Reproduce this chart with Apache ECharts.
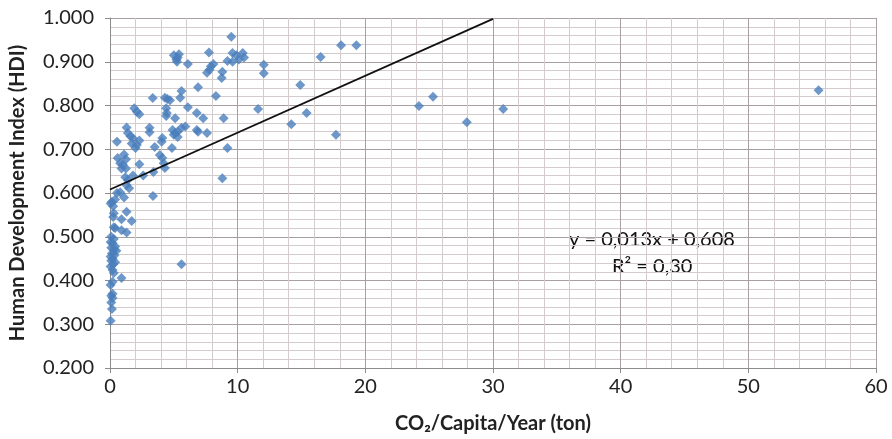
<!DOCTYPE html>
<html>
<head>
<meta charset="utf-8">
<script src="https://cdn.jsdelivr.net/npm/echarts@6/dist/echarts.min.js"></script>
<style>
  html, body { margin: 0; padding: 0; background: #fff; }
  #chart { width: 892px; height: 439px; }
</style>
</head>
<body>
<div id="chart"></div>
<script>
// CO2 per capita (ton) vs HDI
var co2_values = [
    9.5, 5.0, 5.4, 5.2, 5.3, 5.25, 6.1, 7.75, 7.9, 8.1, 7.8, 7.6, 8.8, 8.75, 9.2,
    9.6, 9.9, 9.6, 10.1, 10.4, 10.5, 12.05, 12.05, 6.9, 5.6, 5.5, 3.35, 4.3, 4.5, 4.7,
    8.3, 1.9, 2.1, 2.3, 4.4, 4.45, 4.4, 6.1, 6.8, 7.3, 5.1, 8.9, 11.6, 3.1, 3.1,
    1.3, 1.4, 1.6, 1.8, 1.7, 2.1, 2.3, 2.0, 0.55, 4.9, 5.1, 5.3, 5.6, 5.9, 5.3, 5.0,
    6.8, 6.9, 7.6, 4.1, 4.05, 3.5, 4.85, 9.2, 3.9, 4.1, 4.2,
    0.6, 0.8, 1.1, 1.25, 1.0, 1.25, 0.9, 2.3, 4.3, 3.4, 2.6, 8.8, 1.2, 1.8, 1.4,
    1.3, 1.5, 0.8, 0.55, 1.1, 3.37, 0.15, 0.4, 0.25, 0.05, 1.3, 0.3, 0.25, 0.9, 1.7,
    0.3, 0.4, 0.9, 1.3,
    0.1, 0.3, 0.05, 0.2, 0.4, 0.1, 0.3, 0.5, 0.15, 0.05, 0.35, 0.2, 0.1, 0.4, 0.25, 0.05,
    5.6, 0.2, 0.3, 0.9, 0.2, 0.05, 0.2, 0.1, 0.2, 0.1, 0.15, 0.05,
    14.2, 14.9, 15.4, 16.5, 17.7, 18.1, 19.3, 24.2, 25.3, 27.95, 30.8, 55.5
];
var hdi_values = [
    0.957, 0.915, 0.917, 0.905, 0.91, 0.9, 0.895, 0.921, 0.89, 0.895, 0.882, 0.875, 0.877, 0.863, 0.902,
    0.92, 0.915, 0.9, 0.905, 0.92, 0.91, 0.893, 0.874, 0.842, 0.833, 0.818, 0.817, 0.818, 0.815, 0.812,
    0.822, 0.794, 0.786, 0.78, 0.794, 0.783, 0.776, 0.796, 0.783, 0.771, 0.771, 0.771, 0.792, 0.749, 0.739,
    0.75, 0.737, 0.73, 0.725, 0.713, 0.71, 0.72, 0.703, 0.717, 0.744, 0.737, 0.74, 0.749, 0.752, 0.728, 0.733,
    0.744, 0.74, 0.737, 0.726, 0.717, 0.705, 0.703, 0.703, 0.687, 0.68, 0.668,
    0.68, 0.668, 0.688, 0.677, 0.665, 0.656, 0.656, 0.666, 0.657, 0.648, 0.64, 0.634, 0.636, 0.64, 0.63,
    0.618, 0.611, 0.602, 0.6, 0.59, 0.593, 0.58, 0.585, 0.57, 0.576, 0.557, 0.554, 0.545, 0.54, 0.536,
    0.522, 0.52, 0.515, 0.51,
    0.5, 0.495, 0.488, 0.485, 0.478, 0.475, 0.47, 0.468, 0.462, 0.455, 0.458, 0.45, 0.445, 0.442, 0.437, 0.432,
    0.437, 0.424, 0.417, 0.406, 0.397, 0.39, 0.37, 0.365, 0.36, 0.35, 0.335, 0.308,
    0.757, 0.847, 0.783, 0.911, 0.733, 0.938, 0.938, 0.799, 0.82, 0.762, 0.792, 0.835
];

// linear trend line (Excel): y = slope*x + intercept
var trend_slope = 0.013;
var trend_intercept = 0.608;
var trend_x = [0, 30];
var trend_labels = ['y = 0,013x + 0,608', 'R² = 0,30'];

var points = [];
for (var i = 0; i < co2_values.length; i++) {
    points.push([co2_values[i], hdi_values[i]]);
}
var trend_points = trend_x.map(function(x) {
    return [x, trend_slope * x + trend_intercept];
});

var mchart = echarts.init(document.getElementById('chart'), null, { renderer: 'canvas' });

var font = 'Lato, "Open Sans", sans-serif';

var option = {
    animation: false,
    textStyle: { fontFamily: font },
    grid: { left: 110, right: 16, top: 18, bottom: 71 },
    xAxis: {
        type: 'value',
        min: 0,
        max: 60,
        interval: 10,
        name: 'CO₂/Capita/Year (ton)',
        nameLocation: 'middle',
        nameGap: 46,
        nameTextStyle: { fontFamily: font, fontSize: 20, fontWeight: 'bold', color: '#222' },
        axisLine: { show: true, lineStyle: { color: '#8c8c8c', width: 1 } },
        axisTick: { show: true, length: 5, lineStyle: { color: '#8c8c8c' } },
        axisLabel: { fontSize: 20, color: '#222', margin: 9 },
        splitLine: { show: true, lineStyle: { color: '#a8a0a0', width: 1 } },
        minorTick: { show: false, splitNumber: 5 },
        minorSplitLine: { show: true, lineStyle: { color: '#d4cccc', width: 1 } }
    },
    yAxis: {
        type: 'value',
        min: 0.2,
        max: 1.0,
        interval: 0.1,
        name: 'Human Development Index (HDI)',
        nameLocation: 'middle',
        nameGap: 82,
        nameTextStyle: { fontFamily: font, fontSize: 20, fontWeight: 'bold', color: '#222' },
        axisLine: { show: true, lineStyle: { color: '#8c8c8c', width: 1 } },
        axisTick: { show: true, length: 5, lineStyle: { color: '#8c8c8c' } },
        axisLabel: {
            fontSize: 20,
            color: '#222',
            margin: 16,
            formatter: function(v) { return v.toFixed(3); }
        },
        splitLine: { show: true, lineStyle: { color: '#a8a0a0', width: 1 } },
        minorTick: { show: false, splitNumber: 5 },
        minorSplitLine: { show: true, lineStyle: { color: '#d4cccc', width: 1 } }
    },
    series: [
        {
            type: 'scatter',
            symbol: 'diamond',
            symbolSize: 10,
            itemStyle: { color: '#4a7ebb' },
            data: points,
            z: 3
        },
        {
            type: 'line',
            data: trend_points,
            symbol: 'none',
            lineStyle: { color: '#111', width: 1.8 },
            z: 4
        }
    ],
    graphic: [
        {
            type: 'text',
            left: 569,
            top: 230,
            style: { text: trend_labels[0], fontFamily: font, fontSize: 20, fill: '#111' }
        },
        {
            type: 'text',
            left: 612,
            top: 257,
            style: { text: trend_labels[1], fontFamily: font, fontSize: 20, fill: '#111' }
        }
    ]
};

mchart.setOption(option, true);
</script>
</body>
</html>
